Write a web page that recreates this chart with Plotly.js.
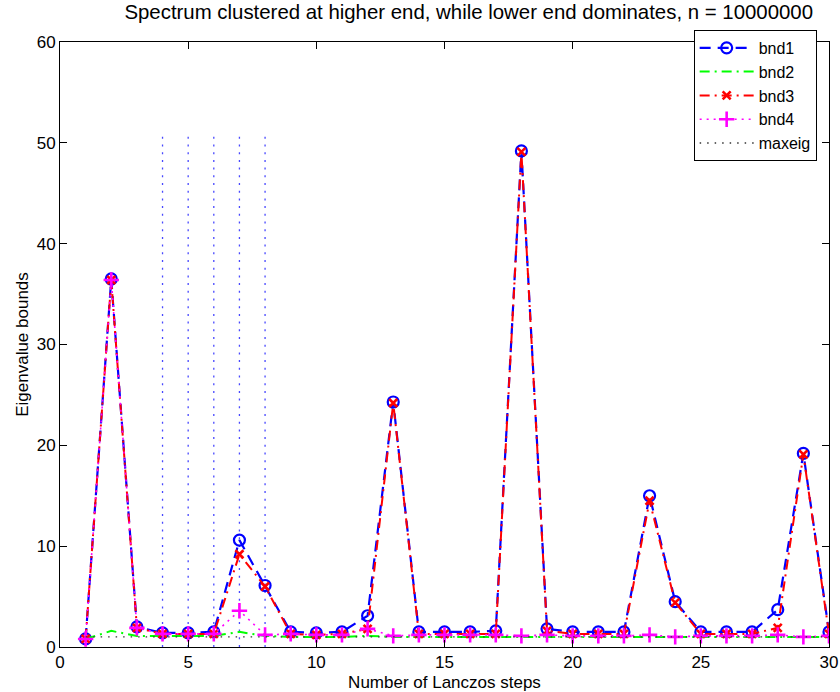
<!DOCTYPE html>
<html>
<head>
<meta charset="utf-8">
<script src="https://cdn.plot.ly/plotly-3.0.1.min.js"></script>
<style>html,body{margin:0;padding:0;background:#fff;}#chart{width:840px;height:692px;}</style>
</head>
<body>
<div id="chart"></div>
<script>
const steps = Array.from({length: 30}, (_, i) => i + 1);
const bnd1 = [0.8, 36.5, 2.0, 1.4, 1.4, 1.5, 10.6, 6.1, 1.5, 1.4, 1.5, 3.1, 24.3, 1.5, 1.5, 1.5, 1.6, 49.2, 1.8, 1.5, 1.5, 1.5, 15.0, 4.5, 1.5, 1.5, 1.5, 3.7, 19.2, 1.5];
const bnd2 = [0.8, 1.6, 1.1, 1.1, 1.1, 1.1, 1.5, 1.1, 1.0, 1.0, 1.0, 1.1, 1.0, 1.0, 1.0, 1.0, 1.0, 1.0, 1.0, 1.0, 1.0, 1.0, 1.0, 1.0, 1.0, 1.0, 1.0, 1.0, 1.0, 1.0];
const bnd3 = [0.8, 36.4, 1.9, 1.3, 1.3, 1.3, 9.2, 6.0, 1.3, 1.2, 1.3, 1.8, 24.2, 1.3, 1.3, 1.3, 1.3, 49.1, 1.6, 1.3, 1.3, 1.3, 14.5, 4.4, 1.3, 1.3, 1.3, 1.9, 19.1, 1.3];
const bnd4 = [0.8, 36.4, 1.9, 1.3, 1.3, 1.3, 3.6, 1.2, 1.3, 1.2, 1.2, 1.8, 1.1, 1.2, 1.2, 1.2, 1.2, 1.1, 1.2, 1.1, 1.1, 1.1, 1.2, 1.0, 1.1, 1.1, 1.1, 1.2, 1.0, 1.1];
const maxeig = steps.map(() => 1.0);
const vlineSteps = [4, 5, 6, 7, 8];
const vlineTop = 51;

const vx = [], vy = [];
vlineSteps.forEach(s => { vx.push(s, s, null); vy.push(0, vlineTop, null); });

const FONT = 'Liberation Sans, Arial, sans-serif';

const traces = [
  {x: vx, y: vy, mode: 'lines', showlegend: false, hoverinfo: 'skip',
   line: {color: 'rgba(40,40,255,0.85)', width: 1.3, dash: '2px,5.7px'}},
  {x: steps, y: bnd1, name: 'bnd1', mode: 'lines+markers',
   line: {color: '#0000ff', width: 2.2, dash: '11px,7px'},
   marker: {symbol: 'circle-open', size: 11, color: '#0000ff', line: {width: 2.2, color: '#0000ff'}}},
  {x: steps, y: bnd2, name: 'bnd2', mode: 'lines',
   line: {color: '#00ff00', width: 2, dash: '10px,5px,2px,5px'}},
  {x: steps, y: bnd3, name: 'bnd3', mode: 'lines+markers',
   line: {color: '#ff0000', width: 2, dash: '10px,5px,2px,5px'},
   marker: {symbol: 'x-thin-open', size: 8, color: '#ff0000', line: {width: 2.6, color: '#ff0000'}}},
  {x: steps, y: bnd4, name: 'bnd4', mode: 'lines+markers',
   line: {color: '#ff00ff', width: 1.6, dash: '2px,5px'},
   marker: {symbol: 'cross-thin-open', size: 11, color: '#ff00ff', line: {width: 2.6, color: '#ff00ff'}}},
  {x: steps, y: maxeig, name: 'maxeig', mode: 'lines',
   line: {color: '#333333', width: 1.4, dash: '1.5px,6px'}}
];

const axisCommon = {
  showgrid: false, zeroline: false, showline: true, linecolor: '#000', linewidth: 1,
  mirror: 'ticks', ticks: 'inside', ticklen: 7, tickcolor: '#000',
  tickfont: {family: FONT, size: 17, color: '#000'}
};

const layout = {
  width: 840, height: 692,
  margin: {l: 60, r: 11, t: 42, b: 45},
  paper_bgcolor: '#fff', plot_bgcolor: '#fff',
  font: {family: FONT, color: '#000'},
  title: {text: 'Spectrum clustered at higher end, while lower end dominates, n = 10000000',
          font: {size: 20.4, color: '#000'}, x: 0.5315, xref: 'paper', xanchor: 'center',
          yref: 'container', y: 0.993, yanchor: 'top'},
  xaxis: Object.assign({}, axisCommon, {range: [0, 30], dtick: 5, tick0: 0,
          title: {text: 'Number of Lanczos steps', font: {size: 17}, standoff: 5}}),
  yaxis: Object.assign({}, axisCommon, {range: [0, 60], dtick: 10, tick0: 0,
          title: {text: 'Eigenvalue bounds', font: {size: 17}, standoff: 3}}),
  legend: {x: 0.824, y: 1.02, xanchor: 'left', yanchor: 'top', bgcolor: '#fff',
           bordercolor: '#000', borderwidth: 1, font: {size: 16}, tracegroupgap: 0,
           itemwidth: 54},
  showlegend: true
};

Plotly.newPlot('chart', traces, layout, {staticPlot: true, displayModeBar: false});
</script>
</body>
</html>
